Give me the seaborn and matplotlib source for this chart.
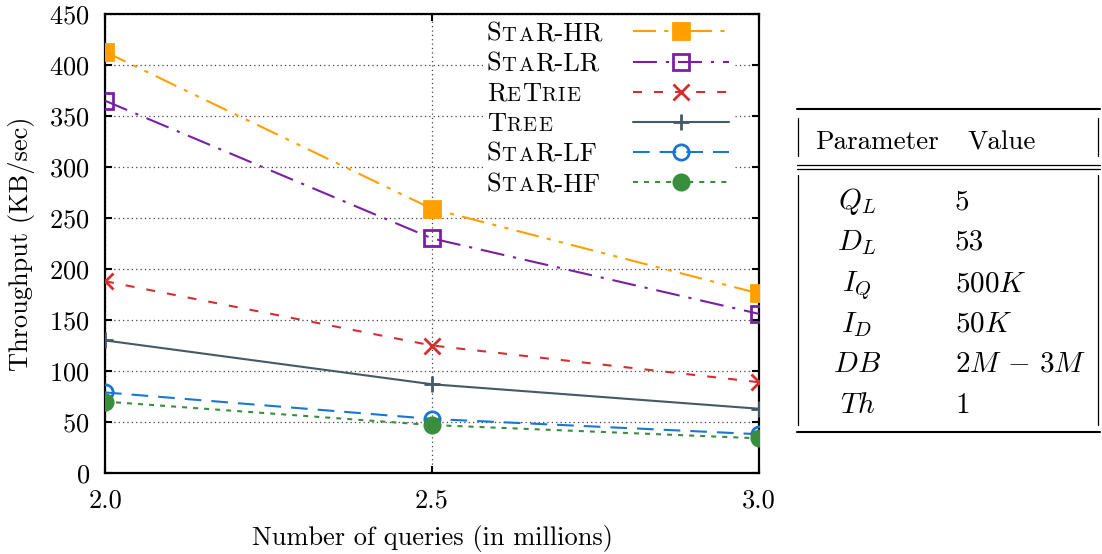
import matplotlib
matplotlib.use("Agg")
import matplotlib.pyplot as plt
from matplotlib.lines import Line2D
from matplotlib.font_manager import FontProperties
from matplotlib.ticker import FormatStrFormatter, MultipleLocator
import seaborn as sns
import pandas as pd

# ---- data -------------------------------------------------------------
queries = [2.0, 2.5, 3.0]  # millions
star_hr = [413, 259, 176]
star_lr = [365, 230, 156]
retrie = [188, 125, 89]
tree = [130, 87, 63]
star_lf = [79, 53, 38]
star_hf = [70, 47, 34]

series_names = ["StaR-HR", "StaR-LR", "ReTrie", "Tree", "StaR-LF", "StaR-HF"]
series_values = [star_hr, star_lr, retrie, tree, star_lf, star_hf]

# small-caps rendering of the legend labels: (piece, is_small)
label_pieces = {
    "StaR-HR": [("S", False), ("TA", True), ("R-HR", False)],
    "StaR-LR": [("S", False), ("TA", True), ("R-LR", False)],
    "ReTrie": [("R", False), ("E", True), ("T", False), ("RIE", True)],
    "Tree": [("T", False), ("REE", True)],
    "StaR-LF": [("S", False), ("TA", True), ("R-LF", False)],
    "StaR-HF": [("S", False), ("TA", True), ("R-HF", False)],
}

table_params = [r"$Q_L$", r"$D_L$", r"$I_Q$", r"$I_D$", r"$DB$", r"$Th$"]
table_values = ["5", "53", r"$500K$", r"$50K$", r"$2M\,-\,3M$", "1"]

# ---- styles -----------------------------------------------------------
styles = {
    "StaR-HR": dict(color="#FFA000", marker="s", mfc="#FFA000", ms=11,
                    ls=(0, (11, 4, 2, 4, 2, 4))),
    "StaR-LR": dict(color="#7B1FA2", marker="s", mfc="none", ms=11,
                    ls=(0, (11.5, 4.3, 1.5, 4.3))),
    "ReTrie": dict(color="#D32F2F", marker="x", mfc="none", ms=11,
                   ls=(0, (4.3, 5.8))),
    "Tree": dict(color="#455A64", marker="+", mfc="none", ms=12,
                 ls="-"),
    "StaR-LF": dict(color="#1976D2", marker="o", mfc="none", ms=11,
                    ls=(0, (8, 4.8))),
    "StaR-HF": dict(color="#388E3C", marker="o", mfc="#388E3C", ms=11,
                    ls=(0, (2.4, 2.9))),
}

sns.set_theme(style="ticks")
plt.rcParams["font.family"] = ["cmr10"]
plt.rcParams["mathtext.fontset"] = "cm"
plt.rcParams["axes.unicode_minus"] = False
plt.rcParams["axes.formatter.use_mathtext"] = True

FS = 19          # axis text
LFS = 19         # legend text
SMALL = 0.78     # small-caps scale
TRACK = 1.5      # extra spacing after each small-caps letter (px)
W, H = 1102, 554
DPI = 100
fig = plt.figure(figsize=(W / DPI, H / DPI), dpi=DPI)
ax_left, ax_right, ax_top, ax_bottom = 105, 759, 14, 473
ax = fig.add_axes([ax_left / W, 1 - ax_bottom / H,
                   (ax_right - ax_left) / W, (ax_bottom - ax_top) / H])

df = pd.DataFrame({
    "queries": queries * len(series_names),
    "throughput": [v for vals in series_values for v in vals],
    "series": [n for n in series_names for _ in queries],
})

for name in series_names:
    st = styles[name]
    sub = df[df["series"] == name]
    sns.lineplot(data=sub, x="queries", y="throughput", ax=ax,
                 color=st["color"], linestyle=st["ls"], lw=1.5,
                 marker=st["marker"], ms=st["ms"], mfc=st["mfc"],
                 mec=st["color"], mew=2, label=name, zorder=3)

ax.set_xlim(2.0, 3.0)
ax.set_ylim(0, 450)
ax.xaxis.set_major_locator(MultipleLocator(0.5))
ax.xaxis.set_major_formatter(FormatStrFormatter("%.1f"))
ax.yaxis.set_major_locator(MultipleLocator(50))
ax.grid(True, color="#444444", lw=0.9, ls=(0, (1, 2.5)), zorder=0)
ax.tick_params(direction="in", length=5, width=1.5, top=True, right=True,
               labelsize=FS, colors="black", pad=11)
for sp in ax.spines.values():
    sp.set_linewidth(1.6)
    sp.set_color("black")
ax.set_xlabel("Number of queries (in millions)", fontsize=FS, labelpad=9,
              color="black")
ax.set_ylabel("Throughput (KB/sec)", fontsize=FS, labelpad=10, color="black")

# ---- legend with small-caps labels ------------------------------------
renderer = fig.canvas.get_renderer()
px_per_pt = DPI / 72.0


def piece_width(text, size):
    w, _, _ = renderer.get_text_width_height_descent(
        text, FontProperties(family="cmr10", size=size), ismath=False)
    return w


text_left, handle_start, handle_len_px = 487, 633, 96
fs_px = LFS * px_per_pt
borderpad = 0.15
handles, labels = ax.get_legend_handles_labels()
leg = ax.legend(handles, [""] * len(handles), loc="upper left",
                bbox_to_anchor=((text_left - borderpad * fs_px - ax_left)
                                / (ax_right - ax_left),
                                (ax_bottom - 18) / (ax_bottom - ax_top)),
                markerfirst=False, fontsize=LFS, frameon=True,
                fancybox=False, framealpha=1, facecolor="white",
                edgecolor="none", borderpad=borderpad, borderaxespad=0,
                labelspacing=0.24, handlelength=handle_len_px / fs_px,
                handletextpad=(handle_start - text_left) / fs_px)
leg.set_zorder(5)

fig.canvas.draw()
inv = fig.transFigure.inverted()
for t, name in zip(leg.get_texts(), labels):
    x0, y0 = t.get_transform().transform(t.get_unitless_position())
    xcur = x0
    for piece, small in label_pieces[name]:
        if small:
            size = LFS * SMALL
            for ch in piece:
                fx_, fy_ = inv.transform((xcur, y0))
                fig.text(fx_, fy_, ch, fontsize=size, va="baseline",
                         ha="left", color="black", zorder=10)
                xcur += piece_width(ch, size) + TRACK
        else:
            fx_, fy_ = inv.transform((xcur, y0))
            fig.text(fx_, fy_, piece, fontsize=LFS, va="baseline",
                     ha="left", color="black", zorder=10)
            xcur += piece_width(piece, LFS)

# ---- parameter table --------------------------------------------------
def fx(px):
    return px / W


def fy(py):
    return 1 - py / H


def hline(y, x0, x1, lw):
    fig.add_artist(Line2D([fx(x0), fx(x1)], [fy(y), fy(y)], lw=lw,
                          color="black", transform=fig.transFigure))


def vline(x, y0, y1, lw=0.9):
    fig.add_artist(Line2D([fx(x), fx(x)], [fy(y0), fy(y1)], lw=lw,
                          color="black", transform=fig.transFigure))


hline(109, 797, 1100, 1.5)
hline(165, 797, 1100, 0.9)
hline(169, 797, 1100, 0.9)
hline(432, 797, 1100, 1.5)
for xv in (798, 1098):
    vline(xv, 118, 156)
    vline(xv, 175, 425)

HFS, RFS = 19.5, 21
fig.text(fx(815), fy(149), "Parameter", fontsize=HFS, va="baseline",
         ha="left", color="black")
fig.text(fx(967), fy(149), "Value", fontsize=HFS, va="baseline",
         ha="left", color="black")
row_base = [209, 250, 291, 332, 372, 413]
for p, v, yb in zip(table_params, table_values, row_base):
    fig.text(fx(857), fy(yb), p, fontsize=RFS, va="baseline", ha="center",
             color="black")
    fig.text(fx(955), fy(yb), v, fontsize=RFS, va="baseline", ha="left",
             color="black")

fig.savefig("out.png", dpi=DPI)
